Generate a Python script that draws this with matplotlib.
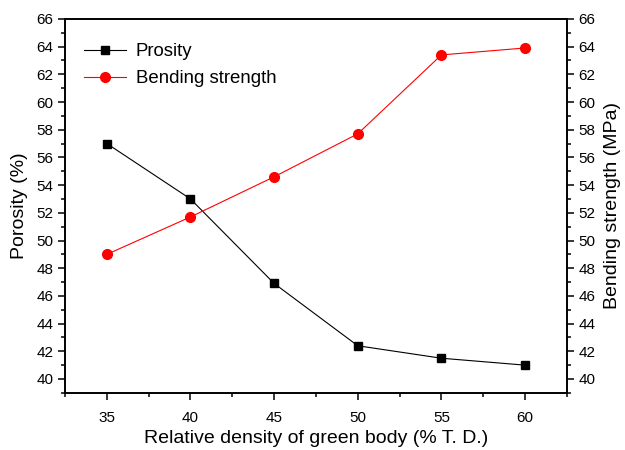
import matplotlib
matplotlib.use("Agg")
import matplotlib.pyplot as plt
from matplotlib.ticker import MultipleLocator

plt.rcParams['font.family'] = ['Liberation Sans', 'DejaVu Sans']

density = [35, 40, 45, 50, 55, 60]
porosity = [57.0, 53.0, 46.9, 42.4, 41.5, 41.0]
bending = [49.0, 51.7, 54.6, 57.7, 63.4, 63.9]

fig = plt.figure(figsize=(6.25, 4.5), dpi=100)
ax = fig.add_axes([0.104, 0.127, 0.803, 0.831])
ax2 = ax.twinx()

l1, = ax.plot(density, porosity, color='black', lw=0.8, marker='s', ms=6, label='Prosity')
l2, = ax2.plot(density, bending, color='red', lw=0.8, marker='o', ms=7, label='Bending strength')

for a in (ax, ax2):
    a.set_ylim(39, 66)
    a.yaxis.set_major_locator(MultipleLocator(2))
    a.yaxis.set_minor_locator(MultipleLocator(1))
    for s in a.spines.values():
        s.set_linewidth(1.2)
ax.set_xlim(32.5, 62.5)
ax.xaxis.set_major_locator(MultipleLocator(5))
ax.xaxis.set_minor_locator(MultipleLocator(2.5))

for a in (ax, ax2):
    a.tick_params(which='both', direction='out', labelsize=11, width=1.1)
    a.tick_params(which='major', length=5)
    a.tick_params(which='minor', length=3)
ax.tick_params(top=False)
ax.tick_params(axis='x', pad=8)

ax.set_xlabel('Relative density of green body (% T. D.)', fontsize=14, labelpad=4)
ax.set_ylabel('Porosity (%)', fontsize=14, labelpad=6)
ax2.set_ylabel('Bending strength (MPa)', fontsize=14, labelpad=6)

ax.legend(handles=[l1, l2], loc='upper left', frameon=False, fontsize=13.4,
          bbox_to_anchor=(0.0, 0.985), handlelength=2.3, handletextpad=0.5,
          labelspacing=0.55, borderaxespad=0.6)

fig.savefig('out.png', dpi=100)
